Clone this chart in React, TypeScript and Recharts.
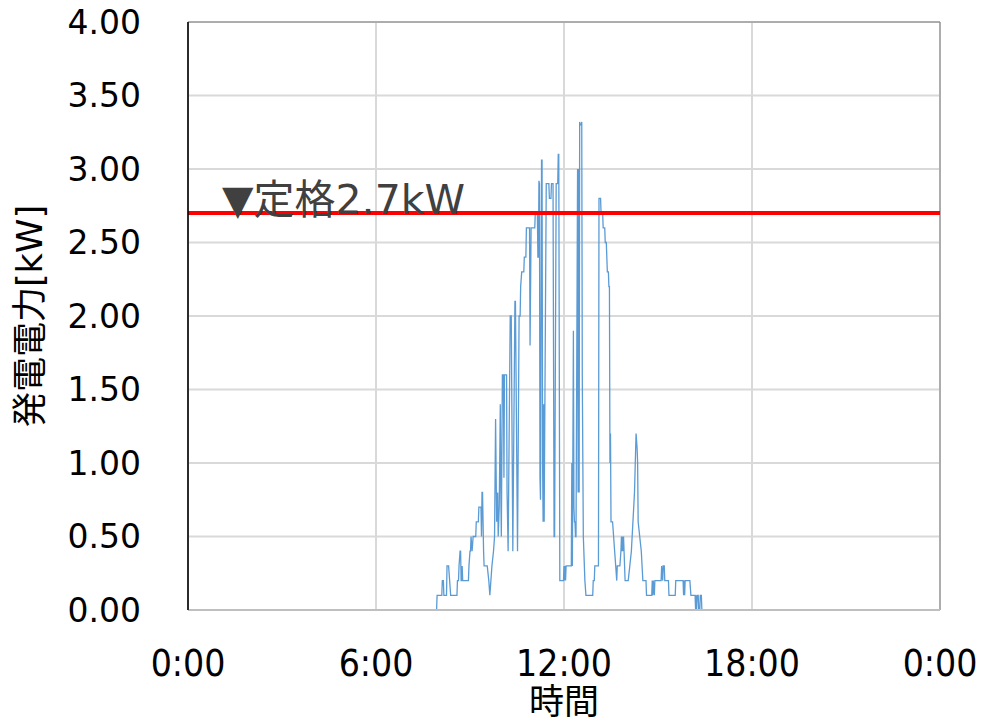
import { LineChart, Line, XAxis, YAxis, CartesianGrid, ReferenceLine, ReferenceArea } from 'recharts';

// minute of day -> kW
const night: [number, number][] = [[0, 0], [476, 0]];

const morning: [number, number][] = [
  [477, 0.1], [486, 0.1], [487, 0.2], [489, 0.2], [490, 0.1],
  [495, 0.1], [496, 0.3], [499, 0.3], [501, 0.2], [503, 0.1],
  [515, 0.1], [516, 0.2], [518, 0.2], [519, 0.3], [521, 0.4], [522, 0.4], [523, 0.2], [524, 0.2], [525, 0.3], [526, 0.2],
  [537, 0.2], [538, 0.3], [540, 0.4], [541, 0.4], [542, 0.5], [544, 0.4], [546, 0.5],
  [551, 0.5], [552, 0.6], [556, 0.6], [557, 0.7], [561, 0.7], [562, 0.5], [563, 0.8], [564, 0.8], [566, 0.4], [567, 0.3],
  [573, 0.3], [576, 0.2], [578, 0.1], [580, 0.2], [582, 0.3], [585, 0.4], [587, 0.5], [589, 1.3], [591, 0.6], [593, 0.8],
  [594, 0.5], [596, 0.7], [598, 1.4], [599, 0.8], [600, 0.5],
];

const noon: [number, number][] = [
  [602, 1.6], [604, 1.6], [605, 0.9], [606, 1.6], [610, 1.6], [611, 0.8],
  [613, 0.4], [617, 2.0], [619, 2.0], [622, 0.4], [626, 2.1], [627, 2.1], [631, 0.4], [634, 2.0], [636, 2.0],
  [637, 2.2], [639, 2.3], [643, 2.3], [644, 2.4], [647, 2.4], [648, 2.6], [654, 2.6], [655, 1.8], [657, 2.6],
  [664, 2.6], [665, 2.7], [669, 2.7], [670, 2.4], [671, 2.4], [672, 2.92], [673, 2.9], [674, 0.9], [675, 0.75],
  [677, 3.06], [678, 3.06], [679, 1.0], [680, 0.6], [681, 1.4], [682, 0.6], [686, 2.9], [691, 2.9], [692, 2.8],
  [695, 2.8], [696, 2.9], [699, 2.9], [701, 0.5], [702, 0.5], [705, 2.9], [708, 2.9], [709, 3.1], [710, 3.1], [712, 0.2],
  [719, 0.2], [720, 0.3], [721, 0.2], [722, 0.3], [723, 0.2], [724, 0.3], [734, 0.3], [735, 1.0], [736, 0.3],
  [738, 1.9], [739, 0.7], [740, 0.6], [741, 0.6], [742, 0.5], [743, 0.5], [746, 3.0], [747, 0.8], [748, 3.0],
  [749, 0.8], [750, 3.32], [751, 3.3], [753, 3.3], [754, 3.32], [755, 1.6], [757, 0.5], [759, 0.3], [760, 0.2], [762, 0.1],
];

const afternoon: [number, number][] = [
  [775, 0.1], [776, 0.2], [778, 0.2], [779, 0.3], [786, 0.3], [787, 2.8], [790, 2.8], [791, 2.7], [794, 2.7],
  [795, 2.6], [798, 2.6], [799, 2.5], [801, 2.5], [802, 2.4], [803, 2.3], [805, 2.3], [806, 2.2], [807, 2.2],
  [808, 1.0], [809, 1.2], [810, 0.6], [813, 0.6], [815, 0.5], [817, 0.4], [819, 0.3], [821, 0.2], [822, 0.3],
  [827, 0.3], [829, 0.4], [830, 0.5], [831, 0.4], [832, 0.5], [833, 0.4], [834, 0.5], [835, 0.4], [837, 0.2],
  [843, 0.2], [846, 0.3], [849, 0.4], [852, 0.6], [855, 0.8], [858, 1.2], [860, 1.1], [861, 1.0], [862, 0.6],
  [865, 0.5], [868, 0.4], [871, 0.2], [877, 0.2], [878, 0.1],
];

const evening: [number, number][] = [
  [888, 0.1], [889, 0.2], [890, 0.1], [891, 0.2], [893, 0.1], [894, 0.2], [906, 0.2], [907, 0.3], [909, 0.2],
  [910, 0.3], [912, 0.3], [913, 0.2], [920, 0.2], [921, 0.1], [933, 0.1], [934, 0.2], [948, 0.2], [949, 0.1],
  [950, 0.2], [951, 0.1], [952, 0.2], [961, 0.2], [963, 0.1], [971, 0.1], [972, 0], [973, 0.1], [974, 0],
  [975, 0.1], [977, 0.1], [978, 0], [980, 0], [981, 0.1], [983, 0.1], [984, 0], [1440, 0],
];

const xTicks = [0, 360, 720, 1080, 1440];
const yTicks = [0, 0.5, 1, 1.5, 2, 2.5, 3, 3.5, 4];
const ratedKw = 2.7;

const data = [...night, ...morning, ...noon, ...afternoon, ...evening].map(([t, kw]) => ({ t, kw }));

const fmtTime = (m: number) => `${Math.floor(m / 60) % 24}:${String(m % 60).padStart(2, '0')}`;

const jpFont = "'DejaVu Sans', 'Noto Sans CJK JP', sans-serif";

export default function App() {
  return (
    <div style={{ position: 'absolute', left: 0, top: 0, background: '#fff' }}>
      <LineChart width={982} height={722} data={data} margin={{ top: 22, right: 42, bottom: 0, left: 0 }}>
        <CartesianGrid stroke="#d9d9d9" strokeWidth={2} />
        <ReferenceArea x1={0} x2={1440} y1={0} y2={4} fill="none" stroke="#808080" strokeWidth={1} />
        <XAxis
          dataKey="t"
          type="number"
          domain={[0, 1440]}
          ticks={xTicks}
          tickFormatter={fmtTime}
          height={112}
          tickLine={false}
          tickSize={0}
          tickMargin={40}
          axisLine={{ stroke: '#bfbfbf', strokeWidth: 2 }}
          tick={{ fill: '#000', fontSize: 37, fontFamily: "'DejaVu Sans Condensed', 'DejaVu Sans', sans-serif" }}
          label={{
            content: ({ viewBox }: any) => (
              <text x={viewBox.x + viewBox.width / 2} y={702} textAnchor="middle" dominantBaseline="central"
                fontSize={35} fontFamily={jpFont} fill="#000">時間</text>
            ),
          }}
        />
        <YAxis
          type="number"
          domain={[0, 4]}
          ticks={yTicks}
          width={188}
          tickFormatter={(v: number) => v.toFixed(2)}
          tickLine={false}
          tickSize={0}
          tickMargin={47}
          axisLine={{ stroke: '#000', strokeWidth: 1.5 }}
          tick={{ fill: '#000', fontSize: 33, fontFamily: "'DejaVu Sans', sans-serif" }}
          label={{
            content: ({ viewBox }: any) => {
              const cx = 30;
              const cy = viewBox.y + viewBox.height / 2;
              return (
                <text x={cx} y={cy} transform={`rotate(-90, ${cx}, ${cy})`} textAnchor="middle" dominantBaseline="central"
                  fontSize={35} fontFamily={jpFont} fill="#000">発電電力[kW]</text>
              );
            },
          }}
        />
        <Line type="linear" dataKey="kw" stroke="#5b9bd5" strokeWidth={1.3} dot={false} isAnimationActive={false} />
        <ReferenceLine
          y={ratedKw}
          stroke="#ff0000"
          strokeWidth={4}
          label={{
            content: ({ viewBox }: any) => (
              <text x={viewBox.x + 34} y={viewBox.y + 1} fontSize={41} fontFamily={jpFont} fill="#404040">
                ▼定格2.7kW
              </text>
            ),
          }}
        />
      </LineChart>
    </div>
  );
}
